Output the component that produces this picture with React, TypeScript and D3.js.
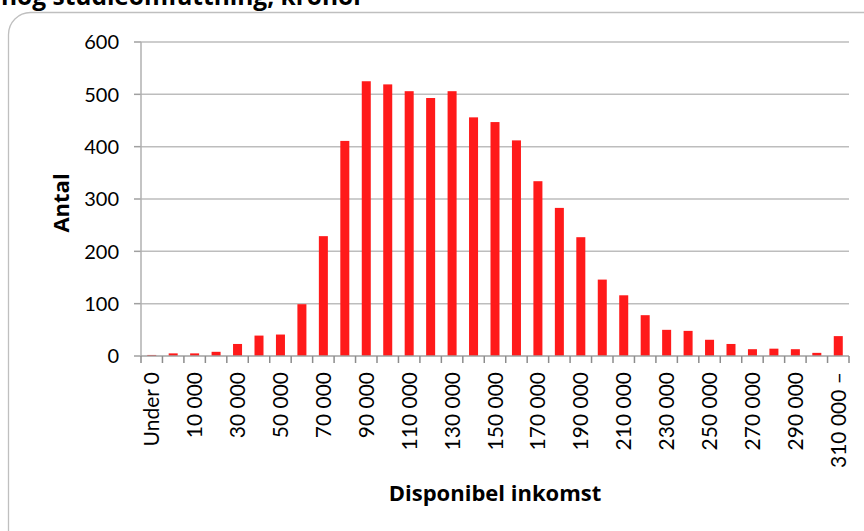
import React from "react";
import * as d3 from "d3";

const categories: string[] = [
  "Under 0", "0", "10 000", "20 000", "30 000", "40 000", "50 000", "60 000", "70 000", "80 000",
  "90 000", "100 000", "110 000", "120 000", "130 000", "140 000", "150 000", "160 000", "170 000",
  "180 000", "190 000", "200 000", "210 000", "220 000", "230 000", "240 000", "250 000", "260 000",
  "270 000", "280 000", "290 000", "300 000", "310 000 –",
];
const values: number[] = [
  2, 5, 5, 8, 23, 39, 41, 99, 229, 411,
  525, 519, 506, 493, 506, 456, 447, 412, 334,
  283, 227, 146, 116, 78, 50, 48, 31, 23,
  13, 14, 13, 6, 38,
];
const yTicks: number[] = [0, 100, 200, 300, 400, 500, 600];

const W = 864;
const H = 531;
const M = { left: 141, right: 849, top: 42, bottom: 356 };
const FONT = "Lato, 'Open Sans', sans-serif";
const BFONT = "'Open Sans', Lato, sans-serif";

export default function App() {
  const x = d3
    .scaleBand<string>()
    .domain(categories)
    .range([M.left, M.right])
    .paddingInner(0.58)
    .paddingOuter(0.29);
  const y = d3.scaleLinear().domain([0, 600]).range([M.bottom, M.top]);
  const step = x.step();
  const boundaries = d3.range(categories.length + 1).map((i) => M.left + i * step);

  return (
    <svg
      width={W}
      height={H}
      style={{ position: "absolute", left: 0, top: 0, background: "#fff" }}
    >
      <text x={1} y={5} fontFamily={BFONT} fontWeight="bold" fontSize={24.5} fill="#000">
        hög studieomfattning, kronor
      </text>
      <rect x={8.5} y={12.5} width={880} height={540} rx={22} ry={22} fill="none" stroke="#bfbfbf" strokeWidth={1.3} />

      {yTicks.map((t) => (
        <g key={t}>
          {t > 0 && (
            <line x1={M.left} x2={M.right} y1={y(t)} y2={y(t)} stroke="#bdbdbd" strokeWidth={1.5} />
          )}
          <line x1={M.left - 7} x2={M.left} y1={y(t)} y2={y(t)} stroke="#a0a0a0" strokeWidth={1.5} />
          <text
            x={M.left - 22}
            y={y(t)}
            dy="0.36em"
            textAnchor="end"
            fontFamily={FONT}
            fontSize={20}
            fill="#000"
          >
            {t}
          </text>
        </g>
      ))}

      {categories.map((c, i) => (
        <rect
          key={c}
          x={x(c)}
          y={y(values[i])}
          width={x.bandwidth()}
          height={y(0) - y(values[i])}
          fill="#ff1a1a"
        />
      ))}

      <line x1={M.left} x2={M.left} y1={M.top} y2={M.bottom} stroke="#b0b0b0" strokeWidth={1.5} />
      <line x1={M.left} x2={M.right} y1={M.bottom} y2={M.bottom} stroke="#a0a0a0" strokeWidth={1.5} />
      {boundaries.map((bx, i) => (
        <line key={i} x1={bx} x2={bx} y1={M.bottom} y2={M.bottom + 7} stroke="#8c8c8c" strokeWidth={1.5} />
      ))}

      {categories.map((c, i) =>
        i % 2 === 0 ? (
          <text
            key={c}
            transform={`translate(${(x(c) as number) + x.bandwidth() / 2},${372}) rotate(-90)`}
            dy="0.36em"
            textAnchor="end"
            fontFamily={FONT}
            fontSize={21}
            fill="#000"
          >
            {c}
          </text>
        ) : null
      )}

      <text
        transform={`translate(69,${(M.top + M.bottom) / 2 + 4}) rotate(-90)`}
        textAnchor="middle"
        fontFamily={BFONT}
        fontWeight="bold"
        fontSize={22}
        fill="#000"
      >
        Antal
      </text>
      <text
        x={(M.left + M.right) / 2}
        y={501}
        textAnchor="middle"
        fontFamily={BFONT}
        fontWeight="bold"
        fontSize={22}
        fill="#000"
      >
        Disponibel inkomst
      </text>
    </svg>
  );
}
